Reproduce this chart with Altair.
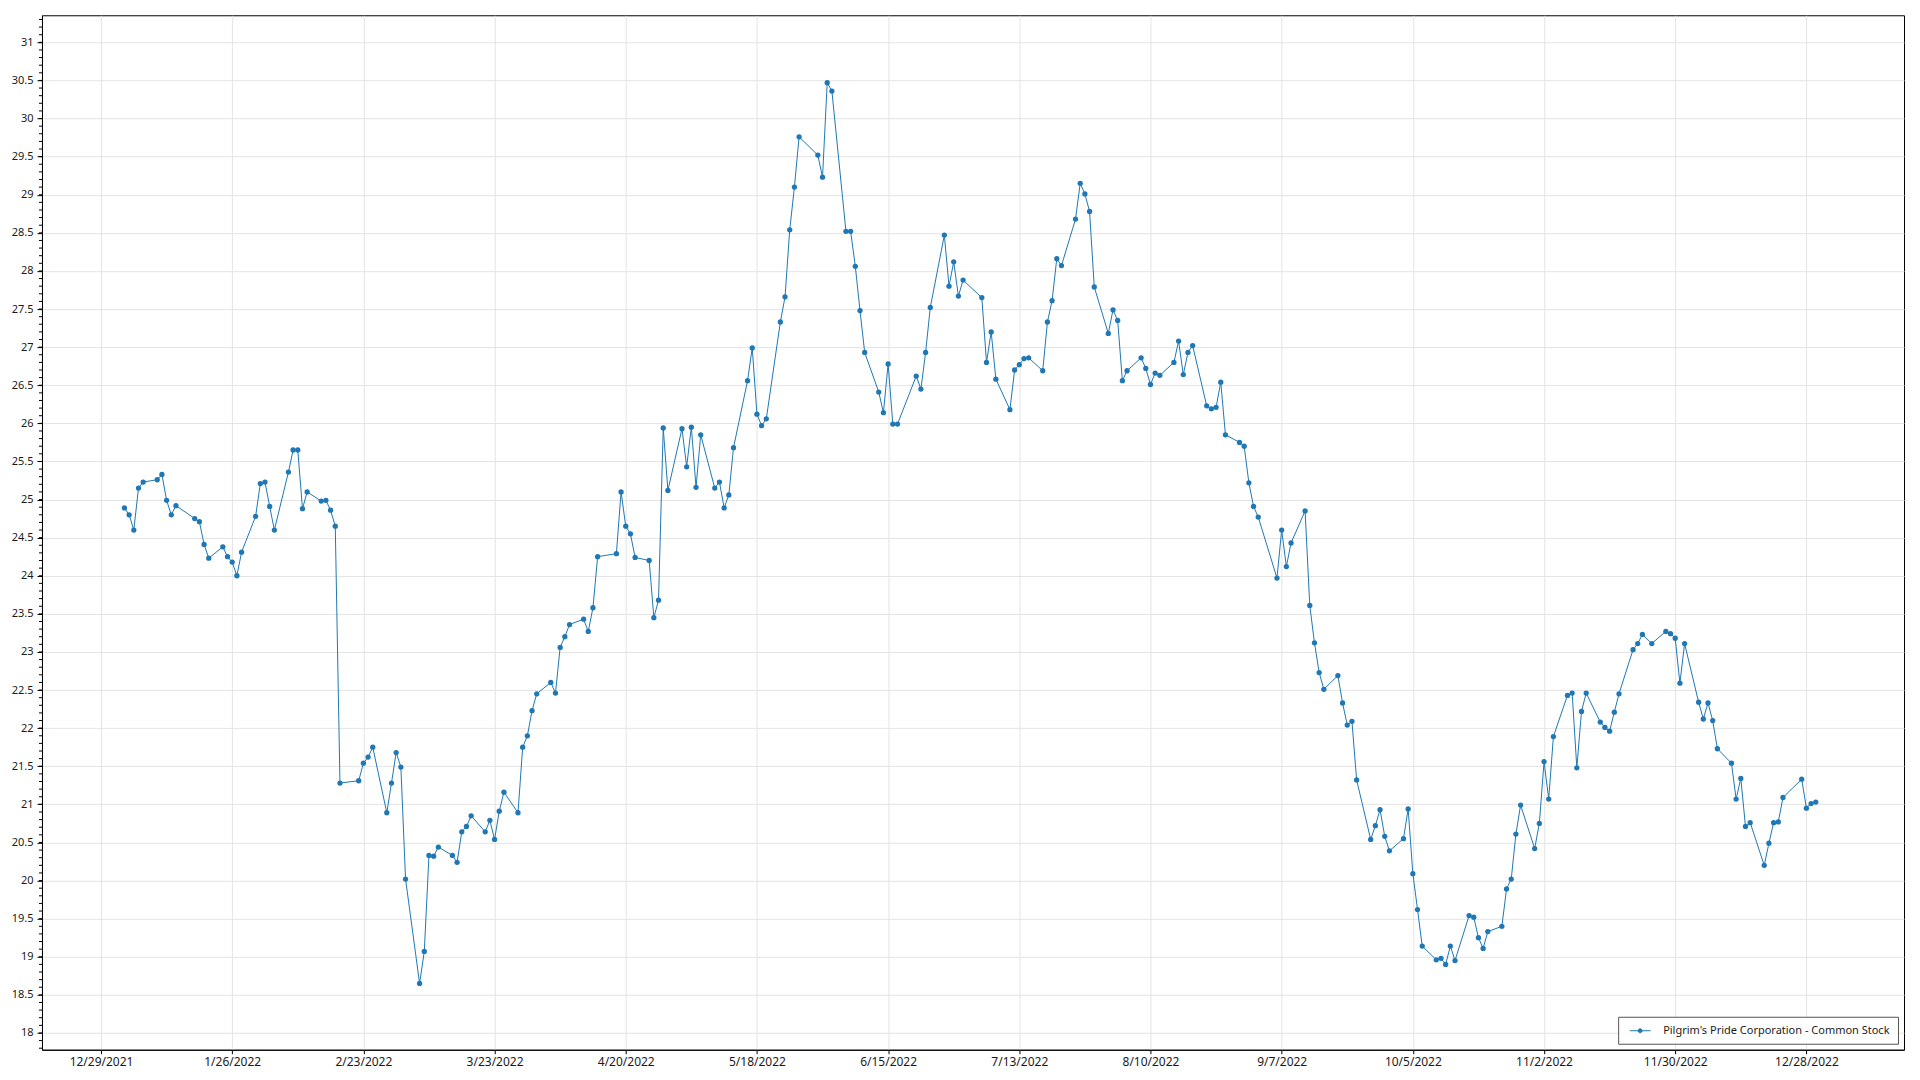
import altair as alt
import pandas as pd

SERIES = "Pilgrim's Pride Corporation - Common Stock"

# ---- data (trading days 2022, closing price) ----
dates_q1 = [
    "2022-01-03", "2022-01-04", "2022-01-05", "2022-01-06", "2022-01-07",
    "2022-01-10", "2022-01-11", "2022-01-12", "2022-01-13", "2022-01-14",
    "2022-01-18", "2022-01-19", "2022-01-20", "2022-01-21",
    "2022-01-24", "2022-01-25", "2022-01-26", "2022-01-27", "2022-01-28",
    "2022-01-31", "2022-02-01", "2022-02-02", "2022-02-03", "2022-02-04",
    "2022-02-07", "2022-02-08", "2022-02-09", "2022-02-10", "2022-02-11",
    "2022-02-14", "2022-02-15", "2022-02-16", "2022-02-17", "2022-02-18",
    "2022-02-22", "2022-02-23", "2022-02-24", "2022-02-25",
    "2022-02-28", "2022-03-01", "2022-03-02", "2022-03-03", "2022-03-04",
    "2022-03-07", "2022-03-08", "2022-03-09", "2022-03-10", "2022-03-11",
    "2022-03-14", "2022-03-15", "2022-03-16", "2022-03-17", "2022-03-18",
    "2022-03-21", "2022-03-22", "2022-03-23", "2022-03-24", "2022-03-25",
    "2022-03-28", "2022-03-29", "2022-03-30", "2022-03-31",
]
prices_q1 = [
    24.89, 24.80, 24.60, 25.15, 25.23,
    25.26, 25.33, 24.99, 24.80, 24.92,
    24.75, 24.71, 24.41, 24.23,
    24.38, 24.25, 24.18, 24.00, 24.31,
    24.78, 25.21, 25.23, 24.91, 24.60,
    25.36, 25.65, 25.65, 24.88, 25.10,
    24.98, 24.99, 24.86, 24.65, 21.28,
    21.31, 21.54, 21.62, 21.75,
    20.89, 21.28, 21.68, 21.49, 20.02,
    18.65, 19.07, 20.33, 20.32, 20.44,
    20.33, 20.24, 20.64, 20.71, 20.85,
    20.64, 20.79, 20.54, 20.91, 21.16,
    20.89, 21.75, 21.90, 22.23,
]

dates_q2 = [
    "2022-04-01",
    "2022-04-04", "2022-04-05", "2022-04-06", "2022-04-07", "2022-04-08",
    "2022-04-11", "2022-04-12", "2022-04-13", "2022-04-14",
    "2022-04-18", "2022-04-19", "2022-04-20", "2022-04-21", "2022-04-22",
    "2022-04-25", "2022-04-26", "2022-04-27", "2022-04-28", "2022-04-29",
    "2022-05-02", "2022-05-03", "2022-05-04", "2022-05-05", "2022-05-06",
    "2022-05-09", "2022-05-10", "2022-05-11", "2022-05-12", "2022-05-13",
    "2022-05-16", "2022-05-17", "2022-05-18", "2022-05-19", "2022-05-20",
    "2022-05-23", "2022-05-24", "2022-05-25", "2022-05-26", "2022-05-27",
    "2022-05-31", "2022-06-01", "2022-06-02", "2022-06-03",
    "2022-06-06", "2022-06-07", "2022-06-08", "2022-06-09", "2022-06-10",
    "2022-06-13", "2022-06-14", "2022-06-15", "2022-06-16", "2022-06-17",
    "2022-06-21", "2022-06-22", "2022-06-23", "2022-06-24",
    "2022-06-27", "2022-06-28", "2022-06-29", "2022-06-30",
]
prices_q2 = [
    22.45,
    22.60, 22.46, 23.06, 23.20, 23.36,
    23.43, 23.27, 23.58, 24.25,
    24.29, 25.10, 24.65, 24.55, 24.24,
    24.20, 23.45, 23.68, 25.94, 25.12,
    25.93, 25.43, 25.95, 25.16, 25.85,
    25.15, 25.23, 24.89, 25.06, 25.68,
    26.56, 26.99, 26.12, 25.97, 26.06,
    27.33, 27.66, 28.54, 29.10, 29.76,
    29.52, 29.23, 30.47, 30.36,
    28.52, 28.52, 28.06, 27.48, 26.93,
    26.41, 26.14, 26.78, 25.99, 25.99,
    26.62, 26.45, 26.93, 27.52,
    28.47, 27.80, 28.12, 27.67,
]

dates_q3 = [
    "2022-07-01",
    "2022-07-05", "2022-07-06", "2022-07-07", "2022-07-08",
    "2022-07-11", "2022-07-12", "2022-07-13", "2022-07-14", "2022-07-15",
    "2022-07-18", "2022-07-19", "2022-07-20", "2022-07-21", "2022-07-22",
    "2022-07-25", "2022-07-26", "2022-07-27", "2022-07-28", "2022-07-29",
    "2022-08-01", "2022-08-02", "2022-08-03", "2022-08-04", "2022-08-05",
    "2022-08-08", "2022-08-09", "2022-08-10", "2022-08-11", "2022-08-12",
    "2022-08-15", "2022-08-16", "2022-08-17", "2022-08-18", "2022-08-19",
    "2022-08-22", "2022-08-23", "2022-08-24", "2022-08-25", "2022-08-26",
    "2022-08-29", "2022-08-30", "2022-08-31", "2022-09-01", "2022-09-02",
    "2022-09-06", "2022-09-07", "2022-09-08", "2022-09-09",
    "2022-09-12", "2022-09-13", "2022-09-14", "2022-09-15", "2022-09-16",
    "2022-09-19", "2022-09-20", "2022-09-21", "2022-09-22", "2022-09-23",
    "2022-09-26", "2022-09-27", "2022-09-28", "2022-09-29", "2022-09-30",
]
prices_q3 = [
    27.88,
    27.65, 26.80, 27.20, 26.58,
    26.18, 26.70, 26.77, 26.85, 26.86,
    26.69, 27.33, 27.61, 28.16, 28.07,
    28.68, 29.15, 29.01, 28.78, 27.79,
    27.18, 27.49, 27.35, 26.56, 26.69,
    26.86, 26.72, 26.51, 26.66, 26.63,
    26.80, 27.08, 26.64, 26.93, 27.02,
    26.23, 26.19, 26.21, 26.54, 25.85,
    25.75, 25.70, 25.22, 24.91, 24.77,
    23.97, 24.60, 24.12, 24.43,
    24.85, 23.61, 23.12, 22.73, 22.51,
    22.69, 22.33, 22.04, 22.09, 21.32,
    20.54, 20.72, 20.93, 20.58, 20.39,
]

dates_q4 = [
    "2022-10-03", "2022-10-04", "2022-10-05", "2022-10-06", "2022-10-07",
    "2022-10-10", "2022-10-11", "2022-10-12", "2022-10-13", "2022-10-14",
    "2022-10-17", "2022-10-18", "2022-10-19", "2022-10-20", "2022-10-21",
    "2022-10-24", "2022-10-25", "2022-10-26", "2022-10-27", "2022-10-28",
    "2022-10-31", "2022-11-01", "2022-11-02", "2022-11-03", "2022-11-04",
    "2022-11-07", "2022-11-08", "2022-11-09", "2022-11-10", "2022-11-11",
    "2022-11-14", "2022-11-15", "2022-11-16", "2022-11-17", "2022-11-18",
    "2022-11-21", "2022-11-22", "2022-11-23", "2022-11-25",
    "2022-11-28", "2022-11-29", "2022-11-30", "2022-12-01", "2022-12-02",
    "2022-12-05", "2022-12-06", "2022-12-07", "2022-12-08", "2022-12-09",
    "2022-12-12", "2022-12-13", "2022-12-14", "2022-12-15", "2022-12-16",
    "2022-12-19", "2022-12-20", "2022-12-21", "2022-12-22", "2022-12-23",
    "2022-12-27", "2022-12-28", "2022-12-29", "2022-12-30",
]
prices_q4 = [
    20.55, 20.94, 20.09, 19.62, 19.14,
    18.96, 18.98, 18.90, 19.14, 18.95,
    19.54, 19.52, 19.25, 19.11, 19.33,
    19.40, 19.89, 20.02, 20.61, 20.99,
    20.42, 20.75, 21.56, 21.07, 21.89,
    22.43, 22.46, 21.48, 22.22, 22.46,
    22.08, 22.01, 21.96, 22.21, 22.45,
    23.03, 23.11, 23.23, 23.11,
    23.27, 23.24, 23.18, 22.59, 23.11,
    22.34, 22.12, 22.33, 22.10, 21.73,
    21.54, 21.07, 21.34, 20.71, 20.76,
    20.20, 20.49, 20.76, 20.77, 21.09,
    21.33, 20.95, 21.01, 21.03,
]

# axis tick labels
x_tick_dates = [
    "2021-12-29", "2022-01-26", "2022-02-23", "2022-03-23", "2022-04-20",
    "2022-05-18", "2022-06-15", "2022-07-13", "2022-08-10", "2022-09-07",
    "2022-10-05", "2022-11-02", "2022-11-30", "2022-12-28",
]
y_major_ticks = [18, 18.5, 19, 19.5, 20, 20.5, 21, 21.5, 22, 22.5, 23, 23.5,
                 24, 24.5, 25, 25.5, 26, 26.5, 27, 27.5, 28, 28.5, 29, 29.5,
                 30, 30.5, 31]
y_minor_ticks = [round(17.8 + 0.1 * i, 1) for i in range(136)]

# ---- build ----
dates = dates_q1 + dates_q2 + dates_q3 + dates_q4
prices = prices_q1 + prices_q2 + prices_q3 + prices_q4
df = pd.DataFrame({"date": dates, "price": prices, "series": SERIES})
minor_df = pd.DataFrame({"price": y_minor_ticks})


def dt(s, hours=0, minutes=0):
    y, m, d = (int(p) for p in s.split("-"))
    return alt.DateTime(year=y, month=m, date=d, hours=hours, minutes=minutes)


FONT = "Segoe UI, Noto Sans, sans-serif"
BLUE = "#1f77b4"
GRID = "#e4e4e4"
TXT = "#1a1a1a"

x_enc = alt.X(
    "date:T",
    scale=alt.Scale(domain=[dt("2021-12-16", 9, 36), dt("2023-01-17", 20, 0)]),
    axis=alt.Axis(
        values=[dt(s) for s in x_tick_dates],
        format="%-m/%-d/%Y",
        title=None,
        labelFontSize=12,
        labelFont=FONT,
        labelColor=TXT,
        tickSize=4,
        tickColor="#000",
        domainColor="#000",
        grid=True,
        gridColor=GRID,
        labelPadding=3,
        labelOverlap=False,
    ),
)
y_axis = alt.Axis(
    values=y_major_ticks,
    format="~g",
    title=None,
    labelFontSize=11,
    labelFont=FONT,
    labelColor=TXT,
    tickSize=5,
    tickColor="#000",
    domainColor="#000",
    grid=True,
    gridColor=GRID,
    labelPadding=4,
    labelOverlap=False,
)
y_scale = alt.Scale(domain=[17.78, 31.355], nice=False, zero=False)
y_enc = alt.Y("price:Q", scale=y_scale, axis=y_axis)

legend_symbol = "M-1.9,0L1.9,0M-0.36,0A0.36,0.36,0,1,1,0.36,0A0.36,0.36,0,1,1,-0.36,0Z"
color_enc = alt.Color(
    "series:N",
    scale=alt.Scale(range=[BLUE]),
    legend=alt.Legend(
        title=None,
        orient="bottom-right",
        offset=6,
        fillColor="white",
        strokeColor="#555555",
        padding=8,
        labelFontSize=11,
        labelFont=FONT,
        labelColor=TXT,
        labelLimit=0,
        symbolType=legend_symbol,
        symbolSize=121,
        symbolStrokeWidth=1,
        symbolFillColor=BLUE,
        symbolStrokeColor=BLUE,
        symbolOpacity=1,
        symbolOffset=8,
        labelOffset=17,
    ),
)

line = alt.Chart(df).mark_line(strokeWidth=1, clip=True).encode(
    x=x_enc, y=y_enc, color=color_enc
)
points = alt.Chart(df).mark_point(filled=True, size=28, opacity=1, clip=True).encode(
    x=x_enc, y=y_enc, color=color_enc
)
minor = alt.Chart(minor_df).mark_rule(color="#000", strokeWidth=1).encode(
    y=alt.Y("price:Q", scale=y_scale, axis=y_axis),
    x=alt.value(-3),
    x2=alt.value(0),
)

chart = (
    alt.layer(line, points, minor)
    .properties(
        width=1863,
        height=1035,
        autosize=alt.AutoSizeParams(type="none"),
        padding={"left": 34, "top": 7, "right": 8, "bottom": 30},
        background="white",
    )
    .configure_view(stroke="#000000", strokeWidth=1)
)

chart.save("out.html", embed_options={"renderer": "svg", "actions": False})
